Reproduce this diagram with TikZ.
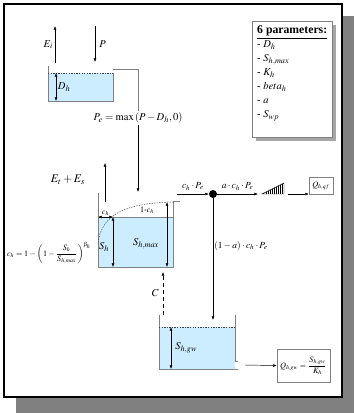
\documentclass[tikz,border=0pt]{standalone}
\usepackage{mathptmx}
\usepackage{fontspec}
\setmainfont{Liberation Serif}
\usetikzlibrary{positioning,arrows.meta}

\definecolor{waterblue}{RGB}{204,236,255}
\definecolor{wallgray}{RGB}{128,128,128}
\definecolor{shadowgray}{RGB}{128,128,128}

\begin{document}
\begin{tikzpicture}[
  x=0.03cm, y=-0.03cm,
  wall/.style={draw=wallgray, line width=0.6pt},
  water/.style={fill=waterblue},
  surface/.style={dash pattern=on 1.2pt off 1pt, line width=0.4pt, draw=darkgray},
  flow/.style={-{Latex[length=3pt,width=2.4pt]}, line width=0.4pt},
  level/.style={{Latex[length=3pt,width=2.4pt]}-{Latex[length=3pt,width=2.4pt]}, line width=0.4pt},
  outbox/.style={draw=wallgray, fill=white, inner sep=1pt, font=\scriptsize},
  dot/.style={circle, fill=black, minimum size=2.4mm, inner sep=0pt},
  lbl/.style={font=\small, inner sep=1.5pt},
  tiny/.style={font=\footnotesize, inner sep=1pt}
]
  \useasboundingbox (0,0) rectangle (354,413);
  % frame with shadow
  \fill[shadowgray] (16,16) rectangle (354,413);
  \draw[line width=1.2pt, fill=white] (4,4) rectangle (342,397);

  % parameter list
  \fill[shadowgray!70] (256,25) rectangle (336,141);
  \draw[wallgray, fill=white] (252,21) rectangle (332,137);
  \node[anchor=north west, align=left, inner sep=0pt,
        font=\fontsize{9}{11.9}\selectfont] (params) at (257,26) {%
    {\fontsize{10}{12}\selectfont\textbf{\underline{6 parameters:}}}\\
    - $D_h$\\
    - $S_{h,max}$\\
    - $K_h$\\
    - $beta_h$\\
    - $a$\\
    - $S_{wp}$};

  % interception store
  \fill[water] (48,73) rectangle (113,101);
  \draw[wall] (48,66) -- (48,101) -- (113,101) -- (113,73);
  \draw[surface] (48,73) -- (113,73);
  \coordinate (eibot) at (55,63);
  \coordinate (eitop) at (55,26);
  \coordinate (ptop) at (95,26);
  \coordinate (pbot) at (95,62);
  \coordinate (dhtop) at (56,73);
  \coordinate (dhbot) at (56,101);
  \draw[flow] (eibot) -- (eitop) node[lbl, midway, left] {$E_i$};
  \draw[flow] (ptop) -- (pbot) node[lbl, midway, right=2pt] {$P$};
  \draw[level] (dhtop) -- (dhbot) node[lbl, midway, right] {$D_h$};

  % effective rainfall
  \coordinate (spill) at (113,69);
  \node[lbl] (pe) at (138,118) {$P_e=\max\left(P-D_h,0\right)$};
  \coordinate (soilin) at (138,192);
  \draw[wall, line width=0.4pt] (spill) -| (pe);
  \draw[flow] (pe) -- (soilin);

  % soil moisture store
  \fill[water] (98,217) rectangle (173,267);
  \draw[wall] (98,193) -- (98,267) -- (173,267) -- (173,201) -- (180,201);
  \draw[wall] (98,217) -- (173,217);
  \draw[surface] (98,245) .. controls (100,215) and (125,203) .. (173,202);
  \coordinate (chleft) at (98,217);
  \coordinate (chright) at (113,217);
  \coordinate (shbot) at (113,267);
  \coordinate (smtop) at (167,202);
  \coordinate (smbot) at (167,267);
  \draw[level] (chleft) -- (chright) node[tiny, midway, above, font=\scriptsize] {$c_h$};
  \draw[level] (chright) -- (shbot);
  \draw[level] (smtop) -- (smbot);
  \node[lbl] (sh) at (104,247) {$S_h$};
  \node[lbl] (shmax) at (146,244) {$S_{h,max}$};
  \node[tiny, font=\scriptsize] (onemin) at (147,210) {$1$-$c_h$};
  \coordinate (etbot) at (105,202);
  \coordinate (ettop) at (105,163);
  \draw[flow] (etbot) -- (ettop);
  \node[font=\normalsize] (evap) at (68,180) {$E_t+E_s$};
  \node[font=\scriptsize, inner sep=0pt] (chform) at (49,253)
    {$c_h=1-\left(1-\displaystyle\frac{S_h}{S_{h,max}}\right)^{\beta_h}$};

  % split of effective rainfall
  \coordinate (soilout) at (177,194);
  \node[dot] (split) at (213,194) {};
  \coordinate (fastend) at (258,194);
  \draw[flow] (soilout) -- (split) node[tiny, midway, above=2pt] {$c_h\cdot P_e$};
  \draw[flow] (split) -- (fastend) node[tiny, midway, above=2pt] {$a\cdot c_h\cdot P_e$};
  % unit hydrograph
  \draw[line width=0.4pt] (262,194) -- (284,194) -- (284,183) -- cycle;
  \foreach \x in {266,268,...,282}
    \draw[line width=0.4pt] (\x,194) -- (\x,{194-(\x-262)*0.5});
  \coordinate (uhout) at (288,194);
  \node[outbox, minimum width=0.72cm, minimum height=0.5cm] (qf) at (321,186) {$Q_{h,qf}$};
  \draw[flow] (uhout) -- (uhout -| qf.west);
  \coordinate (gwin) at (213,320);
  \draw[flow] (split) -- (gwin);
  \node[tiny] (slow) at (241,246) {$(1-a)\cdot c_h\cdot P_e$};

  % groundwater store
  \fill[water] (159,327) rectangle (235,369);
  \draw[wall] (159,315) -- (159,369) -- (238,369);
  \draw[wall] (235,315) -- (235,361) -- (238,361);
  \draw[surface] (159,327) -- (235,327);
  \coordinate (gwtop) at (171,327);
  \coordinate (gwbot) at (171,369);
  \draw[level] (gwtop) -- (gwbot) node[lbl, midway, right=2pt] {$S_{h,gw}$};
  \coordinate (capbot) at (163,315);
  \coordinate (captop) at (163,272);
  \draw[flow, dashed] (capbot) -- (captop) node[lbl, midway, left=2pt] {$C$};
  \coordinate (gwout) at (245,365);
  \node[outbox, minimum width=1.59cm, minimum height=1.0cm] (qgw) at (303.5,366)
    {$Q_{h,gw}=\displaystyle\frac{S_{h,gw}}{K_h}$};
  \draw[flow] (gwout) -- (qgw);
\end{tikzpicture}
\end{document}
